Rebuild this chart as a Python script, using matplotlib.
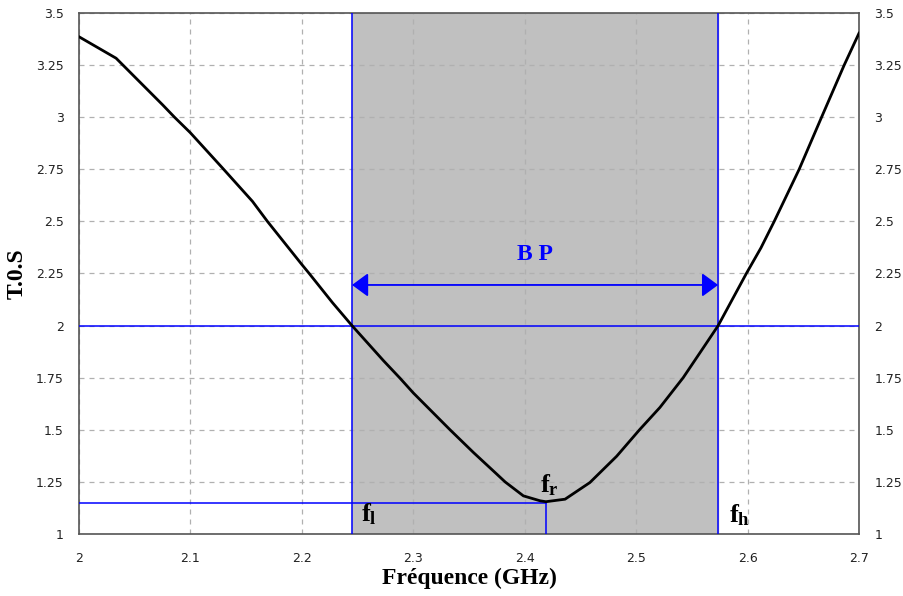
import matplotlib
matplotlib.use('Agg')
import matplotlib.pyplot as plt

plt.rcParams['mathtext.fontset'] = 'custom'
plt.rcParams['mathtext.bf'] = 'Liberation Serif:bold'
plt.rcParams['mathtext.rm'] = 'Liberation Serif:bold'

# curve
freq = [2.0, 2.0333, 2.0512, 2.0751, 2.0857, 2.1, 2.1288, 2.1557, 2.1691,
        2.2, 2.2066, 2.2275, 2.245, 2.2732, 2.2882, 2.3, 2.333,
        2.354, 2.375, 2.3824, 2.3988, 2.414, 2.419, 2.4362, 2.4585,
        2.4825, 2.503, 2.5213, 2.5422, 2.5602, 2.5736, 2.5989, 2.612,
        2.6239, 2.6463, 2.6664, 2.6867, 2.7]
tos = [3.386, 3.283, 3.187, 3.059, 3.0, 2.925, 2.756, 2.596, 2.5,
       2.293, 2.25, 2.11, 2.0, 1.832, 1.747, 1.677, 1.5,
       1.391, 1.287, 1.25, 1.183, 1.159, 1.155, 1.167, 1.247,
       1.373, 1.5, 1.607, 1.75, 1.893, 2.0, 2.25, 2.373,
       2.5, 2.75, 3.0, 3.25, 3.403]

f_l = 2.245
f_h = 2.5736
f_r = 2.419
tos_min = 1.15
tos_ref = 2.0
arrow_y = 2.195

xticks = [2, 2.1, 2.2, 2.3, 2.4, 2.5, 2.6, 2.7]
xlabels = ['2', '2.1', '2.2', '2.3', '2.4', '2.5', '2.6', '2.7']
yticks = [1, 1.25, 1.5, 1.75, 2, 2.25, 2.5, 2.75, 3, 3.25, 3.5]
ylabels = ['1', '1.25', '1.5', '1.75', '2', '2.25', '2.5', '2.75', '3', '3.25', '3.5']

fig = plt.figure(figsize=(9.04, 5.96), dpi=100)
ax = fig.add_axes([79 / 904, 1 - 534 / 596, 780 / 904, 521 / 596])

ax.set_xlim(2, 2.7)
ax.set_ylim(1, 3.5)

# band
ax.axvspan(f_l, f_h, color='#c0c0c0', zorder=0)
ax.grid(True, linestyle=(0, (4, 4)), color='#b0b0b0', linewidth=0.9, zorder=1)
ax.set_axisbelow(True)

ax.axvline(f_l, color='blue', linewidth=1.1, zorder=3)
ax.axvline(f_h, color='blue', linewidth=1.1, zorder=3)
ax.axhline(tos_ref, color='blue', linewidth=1.1, zorder=3)
ax.plot([2, f_r], [tos_min, tos_min], color='blue', linewidth=1.1, zorder=3)
ax.plot([f_r, f_r], [1, tos_min], color='blue', linewidth=1.1, zorder=3)

ax.plot(freq, tos, color='black', linewidth=2, zorder=4)

ax.annotate('', xy=(f_l, arrow_y), xytext=(f_h, arrow_y),
            arrowprops=dict(arrowstyle='<|-|>,head_length=0.45,head_width=0.33',
                            color='blue', lw=1.3,
                            mutation_scale=22, shrinkA=0, shrinkB=0),
            zorder=5)
ax.text((f_l + f_h) / 2, 2.34, 'B P', color='blue', fontsize=17,
        fontweight='bold', family='Liberation Serif', ha='center', va='center')

ax.text(2.253, 1.0625, r'$\mathbf{f_l}$', fontsize=19, ha='left', va='baseline')
ax.text(2.4135, 1.201, r'$\mathbf{f_r}$', fontsize=19, ha='left', va='baseline')
ax.text(2.583, 1.058, r'$\mathbf{f_h}$', fontsize=19, ha='left', va='baseline')

ax.set_xticks(xticks)
ax.set_xticklabels(xlabels)
ax.set_yticks(yticks)
ax.set_yticklabels(ylabels)
ax.tick_params(axis='both', length=0, labelsize=9, colors='#222222')
ax.tick_params(axis='x', pad=13)
ax.tick_params(axis='y', pad=11, labelright=True)
for lab in ax.get_xticklabels() + ax.get_yticklabels():
    lab.set_family('DejaVu Sans')

for sp in ax.spines.values():
    sp.set_color('#555555')
    sp.set_linewidth(1.2)

ax.set_xlabel('Fréquence (GHz)', fontsize=17, fontweight='bold',
              family='Liberation Serif', labelpad=2)
ax.set_ylabel('T.0.S', fontsize=17, fontweight='bold',
              family='Liberation Serif', labelpad=6)

fig.savefig('out.png', dpi=100)
